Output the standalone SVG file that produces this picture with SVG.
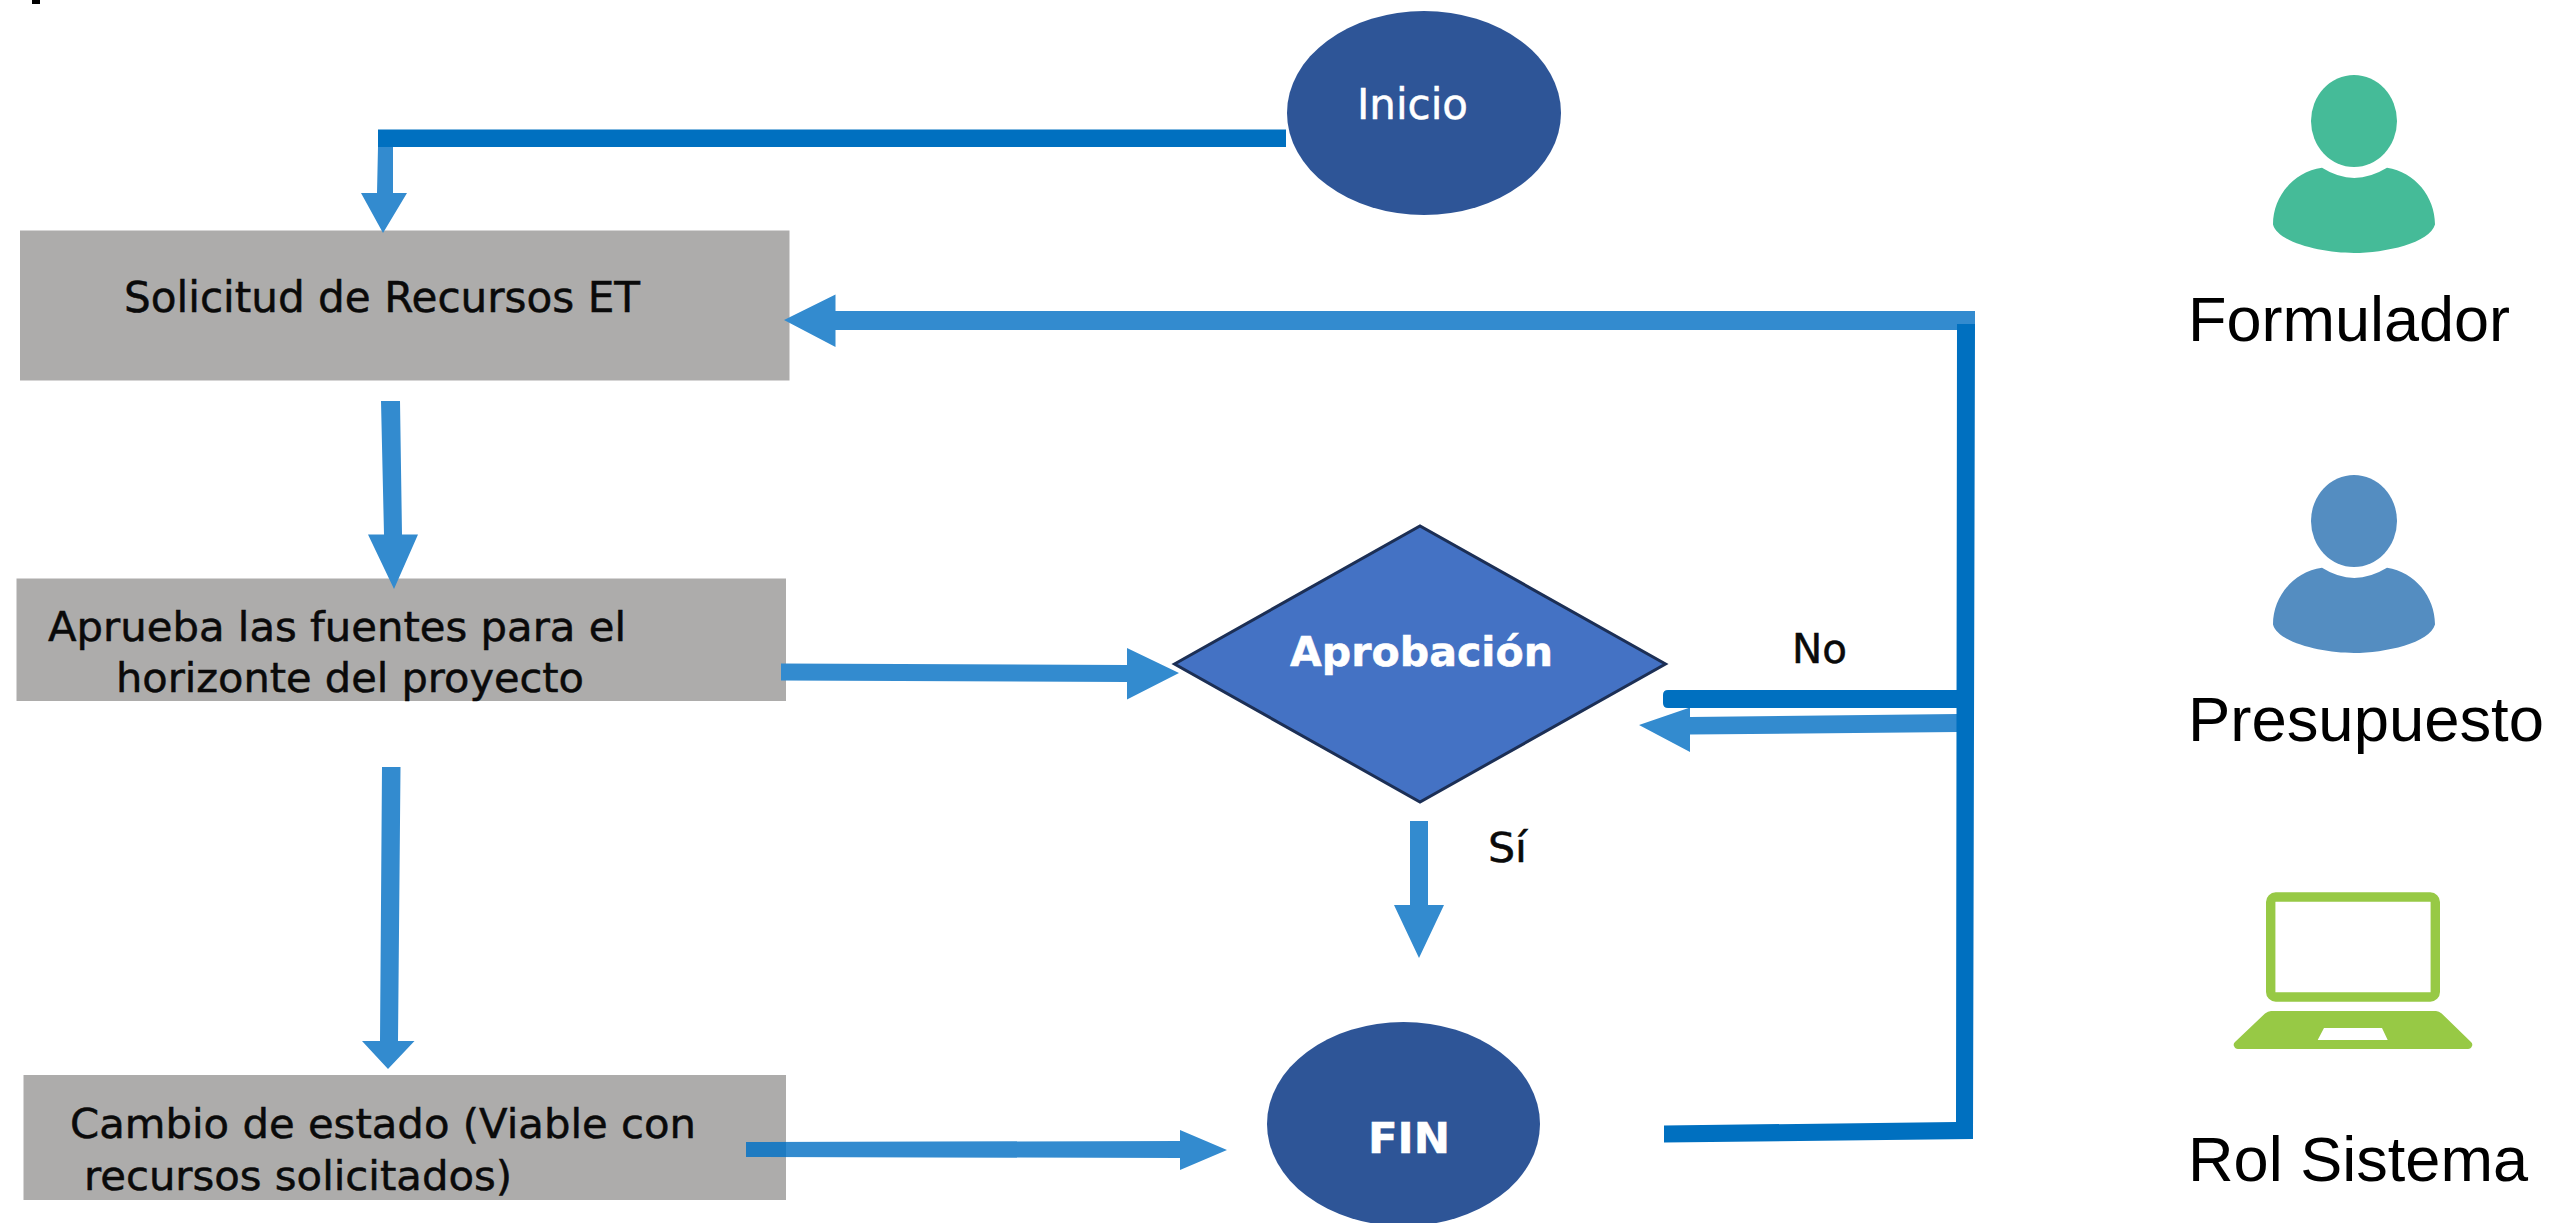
<svg xmlns="http://www.w3.org/2000/svg" width="2553" height="1223" viewBox="0 0 2553 1223">
<style>
.box{fill:#adacab}
.term{fill:#2e5597}
.t{font-family:"DejaVu Sans",Verdana,sans-serif;fill:#0a0a0a;stroke:#0a0a0a;stroke-width:.5}
.w{fill:#fff;stroke:#fff}
.b{font-weight:bold}
.r{font-family:"Liberation Sans",Arial,sans-serif;fill:#000}
.dk{fill:#0070c0}
.lt{fill:#338bcf}
</style>
<rect width="2553" height="1223" fill="#fff"/>
<rect x="32" y="0" width="8" height="4" fill="#000"/>
<g id="nodes">
<g id="inicio"><ellipse class="term" cx="1424" cy="113" rx="137" ry="102"/><text class="t w" x="1357" y="119" font-size="43" textLength="111" lengthAdjust="spacingAndGlyphs">Inicio</text></g>
<g id="solicitud"><rect class="box" x="20" y="230.5" width="769.5" height="150"/><text class="t" x="124" y="311.5" font-size="42" textLength="516" lengthAdjust="spacingAndGlyphs">Solicitud de Recursos ET</text></g>
<g id="aprueba"><rect class="box" x="16.5" y="578.5" width="769.5" height="122.5"/><text class="t" x="48" y="640.5" font-size="40" textLength="578" lengthAdjust="spacingAndGlyphs">Aprueba las fuentes para el</text><text class="t" x="116" y="692" font-size="40" textLength="468" lengthAdjust="spacingAndGlyphs">horizonte del proyecto</text></g>
<g id="cambio"><rect class="box" x="23.5" y="1075" width="762.5" height="125"/><text class="t" x="70" y="1138" font-size="40" textLength="626" lengthAdjust="spacingAndGlyphs">Cambio de estado (Viable con</text><text class="t" x="84" y="1190" font-size="40" textLength="428" lengthAdjust="spacingAndGlyphs">recursos solicitados)</text></g>
<g id="aprobacion"><polygon points="1174.5,664 1420,526 1665.5,664 1420,802" fill="#4472c4" stroke="#1c2f55" stroke-width="3"/><text class="t w b" x="1290" y="666" font-size="41" textLength="263" lengthAdjust="spacingAndGlyphs">Aprobación</text></g>
<g id="fin"><ellipse class="term" cx="1403.5" cy="1124" rx="136.5" ry="102"/><text class="t w b" x="1368" y="1153" font-size="42" textLength="82" lengthAdjust="spacingAndGlyphs">FIN</text></g>
<g id="rol-formulador"><ellipse cx="2354" cy="121" rx="43" ry="46" fill="#45bb98"/><path d="M2322 167.800Q2354 188 2387 167.800C2415 172 2435 197 2435 224.500C2430 243 2385 253 2354 253C2323 253 2278 243 2273 224.500C2273 197 2293 172 2322 167.800Z" fill="#45bb98"/><text class="r" x="2188" y="341" font-size="63" textLength="322" lengthAdjust="spacingAndGlyphs">Formulador</text></g>
<g id="rol-presupuesto"><ellipse cx="2354" cy="521" rx="43" ry="46" fill="#548dc1"/><path d="M2322 567.800Q2354 588 2387 567.800C2415 572 2435 597 2435 624.500C2430 643 2385 653 2354 653C2323 653 2278 643 2273 624.500C2273 597 2293 572 2322 567.800Z" fill="#548dc1"/><text class="r" x="2188" y="741" font-size="63" textLength="356" lengthAdjust="spacingAndGlyphs">Presupuesto</text></g>
<g id="rol-sistema"><rect x="2270.700" y="897" width="164.600" height="100" rx="5" fill="none" stroke="#97c945" stroke-width="9.400"/><path fill-rule="evenodd" d="M2271 1011H2436Q2439 1011 2441.700 1013.500L2471 1042Q2473 1044 2472 1046Q2471 1049 2468 1049H2238Q2235 1049 2234 1046Q2233 1044 2235 1042L2265 1013.500Q2268 1011 2271 1011ZM2324 1028L2317.700 1040H2387.700L2382 1028Z" fill="#97c945"/><text class="r" x="2188" y="1180.500" font-size="63" textLength="340" lengthAdjust="spacingAndGlyphs">Rol Sistema</text></g>
</g>
<g id="connectors">
<g id="c-inicio-solicitud"><polygon class="lt" points="378,147 393,147 393,193 407,193 383,233 361,193 377,193"/><rect class="dk" x="378" y="129.500" width="908" height="17.500"/></g>
<g id="c-retorno-solicitud"><polygon class="lt" points="1975,311 1975,330 835.500,330 835.500,347 784,320 835.500,294.600 835.500,311"/></g>
<g id="c-solicitud-aprueba"><polygon class="lt" points="381,401 400,401 402,534.600 418,534.600 394,589 368,534.600 384,534.600"/></g>
<g id="c-aprueba-aprobacion"><polygon class="lt" points="781,663.500 1127,665 1127,648 1179,673 1127,699.500 1127,682 781,680.500"/></g>
<g id="c-aprueba-cambio"><polygon class="lt" points="382,767 400.500,767 398,1041 414.500,1041 388,1069 362,1041 380,1041"/></g>
<g id="c-cambio-fin"><polygon class="lt" points="746,1142 1180,1141 1180,1130 1227,1150 1180,1170 1180,1158 746,1157"/><rect x="746" y="1142" width="40" height="15" fill="#1f7bc1"/></g>
<g id="c-aprobacion-fin"><polygon class="lt" points="1410,821 1428,821 1428,905 1444,905 1419,958 1394,905 1410,905"/></g>
<g id="c-no"><polygon class="lt" points="1958,714 1958,732 1690,734.500 1690,752 1639,725 1690,707.500 1690,717"/><path class="dk" d="M1668 690H1958V708H1668Q1663 708 1663 703V695Q1663 690 1668 690Z"/></g>
<g id="c-fin-retorno"><polygon class="dk" points="1957,324 1975,324 1973,1139 1664,1142.500 1664,1125.500 1956,1122"/></g>
</g>
<g id="labels">
<text class="t" x="1792" y="662.500" font-size="40" textLength="55" lengthAdjust="spacingAndGlyphs">No</text>
<text class="t" x="1488" y="861.500" font-size="40" textLength="39" lengthAdjust="spacingAndGlyphs">Sí</text>
</g>
</svg>
